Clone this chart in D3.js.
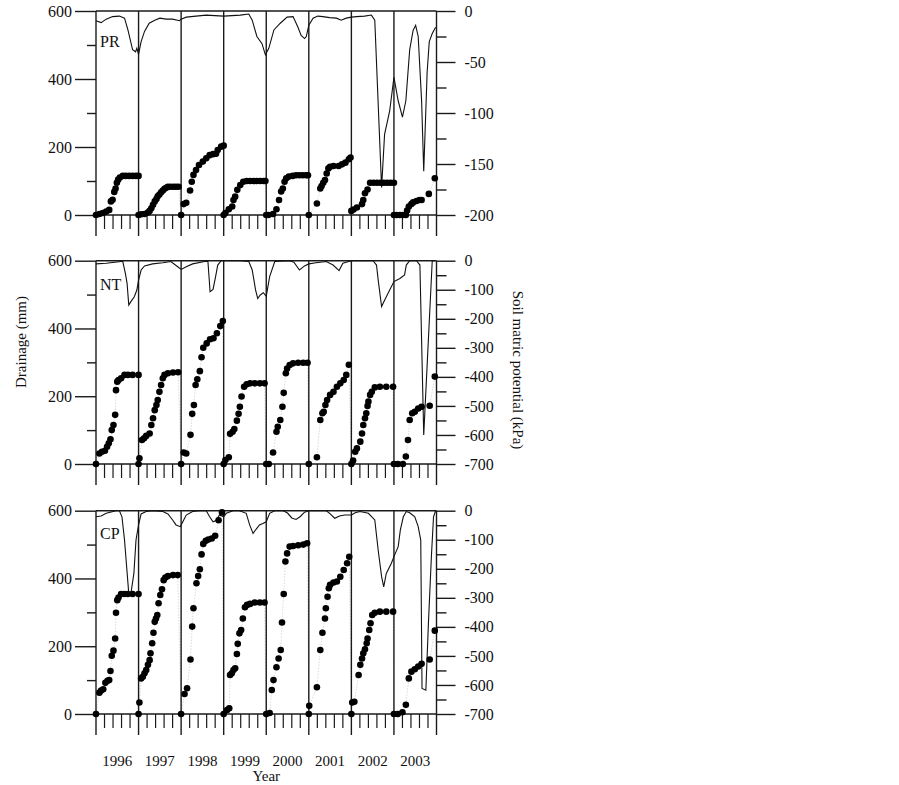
<!DOCTYPE html>
<html>
<head>
<meta charset="utf-8">
<script src="https://cdn.jsdelivr.net/npm/d3@7"></script>
<style>
  body { margin: 0; background: #fff; }
  text { font-family: "Liberation Serif", "DejaVu Serif", serif; fill: #111; }
</style>
</head>
<body>
<script>
(function() {
  'use strict';

  var width = 899, height = 785;

  // years on the x axis and labels
  var years = [1996, 1997, 1998, 1999, 2000, 2001, 2002, 2003];
  var panelNames = ['PR', 'NT', 'CP'];

  // cumulative drainage (mm) as [decimal year, value]
  var prDrain = [
    [1996.00,0],[1996.08,3],[1996.16,6],[1996.24,10],[1996.31,15],[1996.35,40],[1996.39,45],[1996.43,68],[1996.46,78],[1996.49,95],[1996.52,104],[1996.56,110],[1996.63,115],[1996.70,115],[1996.78,115],[1996.86,115],[1996.94,115],[1997.00,115],
    [1997.00,0],[1997.06,2],[1997.14,3],[1997.22,7],[1997.26,12],[1997.30,20],[1997.34,30],[1997.38,40],[1997.42,47],[1997.45,55],[1997.49,60],[1997.53,67],[1997.57,72],[1997.61,77],[1997.65,80],[1997.69,83],[1997.75,83],[1997.82,83],[1997.88,83],[1997.94,83],
    [1998.00,0],[1998.06,32],[1998.12,36],[1998.21,72],[1998.25,98],[1998.29,118],[1998.35,132],[1998.42,147],[1998.51,157],[1998.59,167],[1998.67,176],[1998.75,179],[1998.82,180],[1998.86,191],[1998.94,201],[1999.00,204],
    [1999.00,0],[1999.04,6],[1999.12,17],[1999.20,25],[1999.23,44],[1999.27,54],[1999.32,74],[1999.39,88],[1999.46,98],[1999.54,100],[1999.62,100],[1999.70,100],[1999.78,100],[1999.86,100],[1999.94,100],[1999.98,100],
    [2000.00,0],[2000.05,0],[2000.16,3],[2000.24,17],[2000.30,44],[2000.35,69],[2000.39,78],[2000.43,98],[2000.47,108],[2000.53,113],[2000.62,115],[2000.70,117],[2000.78,117],[2000.86,117],[2000.94,117],[2000.98,117],
    [2001.00,0],[2001.19,34],[2001.27,78],[2001.30,85],[2001.34,95],[2001.38,103],[2001.42,122],[2001.46,137],[2001.50,142],[2001.58,144],[2001.70,144],[2001.78,149],[2001.86,154],[2001.94,164],[2001.98,169],
    [2002.00,12],[2002.05,16],[2002.13,22],[2002.25,32],[2002.28,44],[2002.32,64],[2002.38,75],[2002.44,95],[2002.52,95],[2002.60,95],[2002.68,95],[2002.76,95],[2002.84,95],[2002.92,95],[2003.00,95],
    [2003.00,0],[2003.06,0],[2003.14,0],[2003.21,0],[2003.28,0],[2003.31,13],[2003.35,25],[2003.41,32],[2003.45,37],[2003.53,41],[2003.60,44],[2003.65,44],[2003.82,62],[2003.96,108]
  ];
  var ntDrain = [
    [1996.00,0],[1996.08,31],[1996.14,36],[1996.21,39],[1996.26,51],[1996.30,61],[1996.34,73],[1996.37,100],[1996.41,115],[1996.45,145],[1996.47,218],[1996.50,243],[1996.53,248],[1996.59,253],[1996.67,263],[1996.75,263],[1996.86,263],[1997.00,263],
    [1997.00,0],[1997.02,17],[1997.08,71],[1997.13,76],[1997.18,83],[1997.26,90],[1997.30,115],[1997.34,135],[1997.38,159],[1997.42,174],[1997.45,189],[1997.49,213],[1997.53,233],[1997.57,253],[1997.61,263],[1997.69,268],[1997.81,270],[1997.93,271],
    [1998.00,0],[1998.06,34],[1998.12,31],[1998.22,86],[1998.26,148],[1998.30,174],[1998.34,233],[1998.38,250],[1998.44,274],[1998.48,315],[1998.52,343],[1998.60,356],[1998.68,368],[1998.76,371],[1998.84,386],[1998.92,407],[1998.98,422],
    [1999.00,0],[1999.04,12],[1999.12,20],[1999.15,89],[1999.21,95],[1999.25,103],[1999.31,128],[1999.35,148],[1999.38,169],[1999.42,199],[1999.48,228],[1999.54,235],[1999.62,238],[1999.73,238],[1999.85,238],[1999.96,238],
    [2000.00,0],[2000.06,0],[2000.16,34],[2000.24,95],[2000.27,110],[2000.33,130],[2000.38,169],[2000.41,210],[2000.46,268],[2000.49,282],[2000.55,292],[2000.63,297],[2000.75,299],[2000.87,299],[2000.97,299],
    [2001.00,0],[2001.19,20],[2001.27,130],[2001.32,150],[2001.35,154],[2001.39,174],[2001.43,189],[2001.50,204],[2001.58,213],[2001.66,228],[2001.74,238],[2001.82,248],[2001.88,263],[2001.94,293],
    [2002.00,0],[2002.04,10],[2002.09,36],[2002.13,46],[2002.21,66],[2002.25,90],[2002.28,115],[2002.32,135],[2002.35,150],[2002.38,171],[2002.40,184],[2002.44,204],[2002.48,213],[2002.55,226],[2002.67,228],[2002.82,228],[2002.98,228],
    [2003.00,0],[2003.09,0],[2003.21,0],[2003.28,22],[2003.33,71],[2003.37,130],[2003.43,150],[2003.49,154],[2003.57,164],[2003.65,169],[2003.84,172],[2003.96,258]
  ];
  var cpDrain = [
    [1996.00,0],[1996.08,63],[1996.12,69],[1996.17,73],[1996.22,92],[1996.27,98],[1996.31,100],[1996.34,127],[1996.37,172],[1996.41,187],[1996.45,223],[1996.47,299],[1996.50,336],[1996.53,344],[1996.59,354],[1996.67,354],[1996.75,354],[1996.86,354],[1997.00,354],
    [1997.00,0],[1997.02,34],[1997.06,105],[1997.10,110],[1997.14,120],[1997.18,130],[1997.22,145],[1997.26,159],[1997.28,179],[1997.32,209],[1997.35,240],[1997.38,272],[1997.41,282],[1997.44,292],[1997.47,327],[1997.51,351],[1997.55,368],[1997.59,395],[1997.63,403],[1997.69,407],[1997.81,410],[1997.92,410],
    [1998.00,0],[1998.08,59],[1998.14,76],[1998.22,161],[1998.26,258],[1998.29,312],[1998.36,386],[1998.40,407],[1998.44,427],[1998.48,471],[1998.52,502],[1998.58,511],[1998.64,515],[1998.72,518],[1998.80,526],[1998.88,572],[1998.96,595],
    [1999.00,0],[1999.08,12],[1999.13,17],[1999.15,115],[1999.19,120],[1999.23,130],[1999.27,135],[1999.31,177],[1999.33,207],[1999.37,238],[1999.41,248],[1999.45,282],[1999.50,315],[1999.55,322],[1999.62,325],[1999.73,329],[1999.85,329],[1999.96,329],
    [2000.00,0],[2000.08,3],[2000.13,71],[2000.17,100],[2000.24,138],[2000.29,164],[2000.34,189],[2000.37,270],[2000.41,354],[2000.45,450],[2000.49,474],[2000.55,494],[2000.63,496],[2000.75,498],[2000.87,500],[2000.96,504],
    [2001.00,0],[2001.01,24],[2001.19,79],[2001.27,189],[2001.32,240],[2001.38,282],[2001.40,312],[2001.44,346],[2001.47,371],[2001.50,381],[2001.58,388],[2001.66,391],[2001.74,405],[2001.82,425],[2001.90,445],[2001.95,464],
    [2002.00,0],[2002.02,34],[2002.07,36],[2002.17,115],[2002.21,145],[2002.25,164],[2002.28,179],[2002.32,191],[2002.36,209],[2002.38,223],[2002.42,248],[2002.45,268],[2002.49,292],[2002.55,299],[2002.67,302],[2002.82,302],[2002.98,302],
    [2003.00,0],[2003.09,0],[2003.20,5],[2003.28,27],[2003.35,105],[2003.41,125],[2003.49,132],[2003.57,140],[2003.65,148],[2003.84,161],[2003.96,246]
  ];

  // soil matric potential (kPa) as [decimal year, value]
  var prPot = [
    [1996.00,-9.5],[1996.12,-11.4],[1996.24,-8],[1996.39,-5.5],[1996.55,-5],[1996.67,-7],[1996.75,-18.6],[1996.86,-38],[1996.93,-40],[1996.96,-36.6],
    [1997.00,-42.5],[1997.06,-30],[1997.14,-20],[1997.25,-12],[1997.38,-9],[1997.50,-7],[1997.65,-8],[1997.80,-8],[1997.96,-9.5],
    [1998.00,-8],[1998.12,-6],[1998.35,-5],[1998.59,-4],[1999.00,-5],[1999.39,-4],[1999.59,-3],[1999.67,-9],[1999.78,-25],[1999.90,-32],[1999.98,-43],
    [2000.06,-36.6],[2000.18,-18.6],[2000.33,-12],[2000.49,-6],[2000.63,-5.5],[2000.74,-15.5],[2000.82,-24],[2000.90,-27],[2000.94,-25],
    [2001.00,-14],[2001.10,-7],[2001.21,-5],[2001.33,-5.5],[2001.49,-6.5],[2001.65,-7],[2001.76,-9],[2001.88,-7],
    [2002.00,-6],[2002.12,-5.5],[2002.31,-5],[2002.47,-4],[2002.55,-9],[2002.71,-173],[2002.78,-121],[2002.90,-98],
    [2003.00,-65],[2003.10,-88],[2003.20,-104],[2003.28,-88],[2003.37,-38],[2003.45,-19],[2003.51,-14],[2003.57,-25],[2003.65,-88],[2003.70,-157],[2003.78,-60],[2003.83,-30],[2003.90,-22],[2003.98,-16]
  ];
  var ntPot = [
    [1996.00,-11],[1996.24,-9],[1996.59,-3],[1996.63,-3],[1996.69,-44],[1996.73,-78],[1996.77,-153],[1996.82,-141],[1996.90,-124],[1996.96,-101],
    [1997.00,-67],[1997.06,-32],[1997.14,-18],[1997.33,-11],[1997.57,-7],[1997.76,-3],[1997.92,-21],
    [1998.00,-30],[1998.12,-21],[1998.27,-11],[1998.55,-3],[1998.63,-3],[1998.68,-107],[1998.75,-99],[1998.81,-55],[1998.86,-15],[1998.94,0],
    [1999.39,0],[1999.59,-3],[1999.67,-32],[1999.75,-101],[1999.80,-130],[1999.86,-118],[1999.93,-110],
    [2000.00,-122],[2000.08,-55],[2000.20,-3],[2000.55,0],[2000.65,-5],[2000.78,-32],[2000.90,-18],
    [2001.00,-11],[2001.17,-7],[2001.41,-3],[2001.57,-15],[2001.71,-34],[2001.80,-9],
    [2002.00,0],[2002.51,0],[2002.59,-15],[2002.63,-67],[2002.71,-158],[2002.78,-136],[2002.90,-101],
    [2003.00,-72],[2003.14,-61],[2003.25,-49],[2003.29,-15],[2003.37,0],[2003.53,0],[2003.61,-15],[2003.70,-600],[2003.90,0],[2003.97,0]
  ];
  var cpPot = [
    [1996.00,-21],[1996.12,-18],[1996.24,-9],[1996.47,0],[1996.55,0],[1996.61,-21],[1996.67,-101],[1996.72,-193],[1996.77,-285],[1996.82,-285],[1996.89,-216],[1996.94,-101],
    [1997.00,-49],[1997.06,-11],[1997.18,-3],[1997.33,0],[1997.57,-3],[1997.69,-11],[1997.80,-32],[1997.88,-49],[1997.98,-55],
    [1998.04,-38],[1998.12,-15],[1998.27,-3],[1998.43,0],[1998.59,0],[1998.67,-21],[1998.75,-38],[1998.82,-34],[1998.90,-15],
    [1999.00,-21],[1999.06,-9],[1999.22,0],[1999.37,0],[1999.53,-9],[1999.61,-49],[1999.69,-78],[1999.76,-64],[1999.84,-49],[1999.92,-44],
    [2000.00,-38],[2000.08,-9],[2000.20,0],[2000.40,0],[2000.50,-8],[2000.60,-25],[2000.70,-30],[2000.80,-20],[2000.90,-5],
    [2001.00,0],[2001.41,0],[2001.49,-9],[2001.61,-26],[2001.72,-18],[2001.84,-15],
    [2002.00,-15],[2002.09,-7],[2002.20,-3],[2002.40,-9],[2002.55,-32],[2002.63,-136],[2002.71,-227],[2002.76,-262],[2002.82,-216],[2002.94,-181],
    [2003.00,-158],[2003.10,-124],[2003.15,-67],[2003.22,-21],[2003.29,-3],[2003.37,-7],[2003.49,-21],[2003.57,-55],[2003.63,-101],[2003.66,-612],[2003.75,-618],[2003.81,-388],[2003.88,-158],[2003.93,-21],[2003.98,0]
  ];

  // left and right tick values
  var drainMajor = [0, 200, 400, 600],
      drainMinor = [100, 300, 500];
  var prPotMajor = [0, -50, -100, -150, -200],
      prPotMinor = [-25, -75, -125, -175];
  var ntPotMajor = [0, -100, -200, -300, -400, -500, -600, -700],
      ntPotMinor = [-50, -150, -250, -350, -450, -550, -650];

  var panels = [
    {name: panelNames[0], top: 11,    bottom: 215, drain: prDrain, pot: prPot, potMin: -200, major: prPotMajor, minor: prPotMinor, labelY: 47},
    {name: panelNames[1], top: 260.7, bottom: 464, drain: ntDrain, pot: ntPot, potMin: -700, major: ntPotMajor, minor: ntPotMinor, labelY: 290},
    {name: panelNames[2], top: 510.7, bottom: 714, drain: cpDrain, pot: cpPot, potMin: -700, major: ntPotMajor, minor: ntPotMinor, labelY: 539}
  ];

  var svg = d3.select("body").append("svg")
      .attr("width", width)
      .attr("height", height);

  var x = d3.scaleLinear().domain([1996, 2004]).range([96, 436.5]);
  var ink = "#1a1a1a";

  panels.forEach(function(p) {
    var yL = d3.scaleLinear().domain([0, 600]).range([p.bottom, p.top]),
        yR = d3.scaleLinear().domain([p.potMin, 0]).range([p.bottom, p.top]);

    var g = svg.append("g");

    // faint connecting line through drainage points
    g.append("path").datum(p.drain)
      .attr("d", d3.line().x(function(d) { return x(d[0]); }).y(function(d) { return yL(d[1]); }))
      .attr("fill", "none")
      .attr("stroke", "#c8c8c8")
      .attr("stroke-width", 0.7)
      .attr("stroke-dasharray", "1.5,1.5");

    // frame: top and bottom lines
    g.append("line").attr("x1", x(1996)).attr("x2", x(2004))
      .attr("y1", p.top).attr("y2", p.top)
      .attr("stroke", ink).attr("stroke-width", 1.4);
    g.append("line").attr("x1", x(1996)).attr("x2", x(2004))
      .attr("y1", p.bottom).attr("y2", p.bottom)
      .attr("stroke", ink).attr("stroke-width", 1.4);

    // year separators running below the axis
    g.selectAll(".yr").data(d3.range(1996, 2005)).enter()
      .append("line")
      .attr("x1", function(d) { return x(d); })
      .attr("x2", function(d) { return x(d); })
      .attr("y1", p.top)
      .attr("y2", p.bottom + 21)
      .attr("stroke", ink).attr("stroke-width", 1.4);

    // minor x ticks, 4 per year
    var minorX = [];
    years.forEach(function(yr) { [0.2, 0.4, 0.6, 0.8].forEach(function(f) { minorX.push(yr + f); }); });
    g.selectAll(".mx").data(minorX).enter()
      .append("line")
      .attr("x1", function(d) { return x(d); })
      .attr("x2", function(d) { return x(d); })
      .attr("y1", p.bottom)
      .attr("y2", p.bottom + 14)
      .attr("stroke", ink).attr("stroke-width", 1.2);

    // left axis
    var la = g.append("g").attr("transform", "translate(" + x(1996) + ",0)")
      .call(d3.axisLeft(yL).tickValues(drainMajor).tickSize(21).tickPadding(3).tickFormat(function(d) { return String(d); }));
    g.append("g").attr("transform", "translate(" + x(1996) + ",0)")
      .call(d3.axisLeft(yL).tickValues(drainMinor).tickSize(9).tickFormat(""));

    // right axis
    var ra = g.append("g").attr("transform", "translate(" + x(2004) + ",0)")
      .call(d3.axisRight(yR).tickValues(p.major).tickSize(19).tickPadding(9).tickFormat(function(d) { return String(d); }));
    g.append("g").attr("transform", "translate(" + x(2004) + ",0)")
      .call(d3.axisRight(yR).tickValues(p.minor).tickSize(10).tickFormat(""));

    g.selectAll(".domain").remove();
    g.selectAll(".tick line").attr("stroke", ink).attr("stroke-width", 1.4);
    g.selectAll(".tick text")
      .attr("font-family", '"Liberation Serif", serif')
      .attr("font-size", 16)
      .attr("fill", "#111");

    // soil matric potential line
    g.append("path").datum(p.pot)
      .attr("d", d3.line().x(function(d) { return x(d[0]); }).y(function(d) { return yR(d[1]); }))
      .attr("fill", "none")
      .attr("stroke", "#111")
      .attr("stroke-width", 1.1);

    // drainage dots
    g.selectAll(".dot").data(p.drain).enter()
      .append("circle")
      .attr("cx", function(d) { return x(d[0]); })
      .attr("cy", function(d) { return yL(d[1]); })
      .attr("r", 3.3)
      .attr("fill", "#000");

    // panel label
    g.append("text")
      .attr("x", 100).attr("y", p.labelY)
      .attr("font-size", 16)
      .text(p.name);
  });

  // year labels under the last panel
  svg.selectAll(".ylab").data(years).enter()
    .append("text")
    .attr("x", function(d) { return x(d + 0.5); })
    .attr("y", 766)
    .attr("text-anchor", "middle")
    .attr("font-size", 15)
    .text(function(d) { return d; });

  svg.append("text")
    .attr("x", x(2000)).attr("y", 781)
    .attr("text-anchor", "middle")
    .attr("font-size", 15)
    .text("Year");

  svg.append("text")
    .attr("transform", "translate(26,342) rotate(-90)")
    .attr("text-anchor", "middle")
    .attr("font-size", 15)
    .text("Drainage (mm)");

  svg.append("text")
    .attr("transform", "translate(513,370) rotate(90)")
    .attr("text-anchor", "middle")
    .attr("font-size", 15)
    .text("Soil matric potential (kPa)");

})();
</script>
</body>
</html>
